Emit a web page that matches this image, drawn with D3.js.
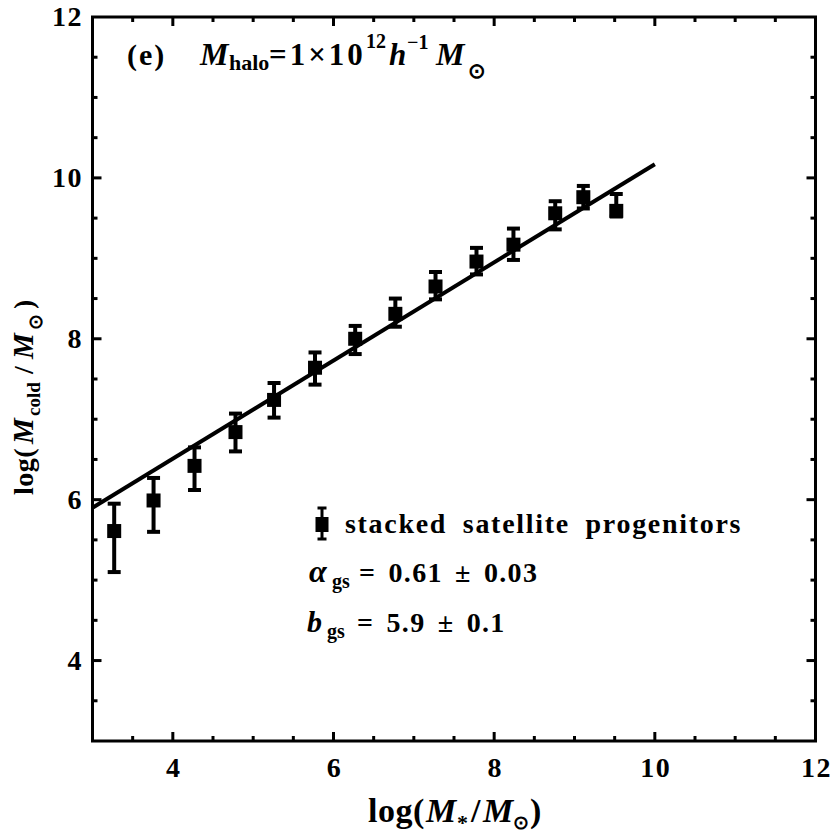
<!DOCTYPE html>
<html><head><meta charset="utf-8">
<script src="https://cdn.jsdelivr.net/npm/d3@7"></script>
<style>body{margin:0;background:#fff}svg{display:block}text{font-family:"Liberation Serif","Times New Roman",serif;font-weight:bold;fill:#000}</style>
</head><body><svg id="c" width="834" height="834"></svg>
<script>
const xs   = [3.27, 3.76, 4.27, 4.78, 5.26, 5.77, 6.27, 6.77, 7.27, 7.78, 8.24, 8.76, 9.11, 9.52];
const ys   = [5.61, 5.99, 6.42, 6.84, 7.24, 7.64, 8.00, 8.31, 8.65, 8.96, 9.17, 9.56, 9.76, 9.59];
const yHi  = [5.95, 6.27, 6.65, 7.07, 7.45, 7.83, 8.16, 8.50, 8.83, 9.13, 9.37, 9.71, 9.90, 9.80];
const yLo  = [5.10, 5.60, 6.12, 6.60, 7.02, 7.43, 7.81, 8.15, 8.49, 8.80, 8.98, 9.36, 9.62, 9.52];
const fitX = [3, 10];
const alpha = 0.61, bgs = 5.9;
const majorTicks = [4, 6, 8, 10, 12];
const xMajorLabels = [4, 6, 8, 10, 12];
const yMajorLabels = [4, 6, 8, 10, 12];

const svg = d3.select("#c");
const L = 92.5, R = 815.5, T = 17, B = 741;
const x = d3.scaleLinear().domain([3, 12]).range([L, R]);
const y = d3.scaleLinear().domain([3, 12]).range([B, T]);
const minor = d3.range(3.5, 12, 0.5).filter(v => v % 2 !== 0);

// ticks (inward, all four sides)
const tk = svg.append("g").attr("stroke", "#000").attr("stroke-width", 3);
[...majorTicks.map(v => [v, 9]), ...minor.map(v => [v, 5])].forEach(([v, len]) => {
  if (v < 12) {
    tk.append("line").attr("x1", x(v)).attr("x2", x(v)).attr("y1", B).attr("y2", B - len);
    tk.append("line").attr("x1", x(v)).attr("x2", x(v)).attr("y1", T).attr("y2", T + len);
    tk.append("line").attr("y1", y(v)).attr("y2", y(v)).attr("x1", L).attr("x2", L + len);
    tk.append("line").attr("y1", y(v)).attr("y2", y(v)).attr("x1", R).attr("x2", R - len);
  }
});
svg.append("rect").attr("x", L).attr("y", T).attr("width", R - L).attr("height", B - T)
  .attr("fill", "none").attr("stroke", "#000").attr("stroke-width", 3);

// tick labels
svg.selectAll(".xl").data(xMajorLabels).enter().append("text")
  .attr("x", d => x(d) + 1).attr("y", 777).attr("text-anchor", "middle").attr("font-size", 28)
  .attr("letter-spacing", 1.5).text(d => d);
svg.selectAll(".yl").data(yMajorLabels).enter().append("text")
  .attr("x", 83).attr("y", d => y(d) + 9).attr("text-anchor", "end").attr("font-size", 28)
  .attr("letter-spacing", 1.5).text(d => d);

// fit line
svg.append("line").attr("x1", x(fitX[0])).attr("y1", y(bgs + alpha * (fitX[0] - 3)))
  .attr("x2", x(fitX[1])).attr("y2", y(bgs + alpha * (fitX[1] - 3)))
  .attr("stroke", "#000").attr("stroke-width", 4);

// error bars + squares
const g = svg.append("g");
xs.forEach((xv, i) => {
  const cx = x(xv);
  g.append("line").attr("x1", cx).attr("x2", cx).attr("y1", y(yHi[i])).attr("y2", y(yLo[i])).attr("stroke", "#000").attr("stroke-width", 4);
  [yHi[i], yLo[i]].forEach(v => g.append("line").attr("x1", cx - 6.5).attr("x2", cx + 6.5).attr("y1", y(v)).attr("y2", y(v)).attr("stroke", "#000").attr("stroke-width", 4));
  g.append("rect").attr("x", cx - 7).attr("y", y(ys[i]) - 7).attr("width", 14).attr("height", 14).attr("fill", "#000");
});

// helper for positioned text pieces
function piece(parent, px, py, txt, size, italic) {
  return parent.append("text").attr("x", px).attr("y", py).attr("font-size", size)
    .attr("font-style", italic ? "italic" : "normal").text(txt);
}

// legend
const lx = 322, ly = 524;
g.append("line").attr("x1", lx).attr("x2", lx).attr("y1", ly - 16).attr("y2", ly + 15).attr("stroke", "#000").attr("stroke-width", 3);
[ly - 16, ly + 15].forEach(v => g.append("line").attr("x1", lx - 4.5).attr("x2", lx + 4.5).attr("y1", v).attr("y2", v).attr("stroke", "#000").attr("stroke-width", 3));
g.append("rect").attr("x", lx - 6.5).attr("y", ly - 7).attr("width", 13).attr("height", 15).attr("fill", "#000");
svg.append("text").attr("x", 345).attr("y", 533).attr("font-size", 28).attr("letter-spacing", 1.7).attr("word-spacing", 7)
  .text("stacked satellite progenitors");

// fit parameters
piece(svg, 309, 582, "α", 32, true);
piece(svg, 332, 588, "gs", 20, false);
piece(svg, 359, 582, "= 0.61 ± 0.03", 28, false).attr("letter-spacing", 1.3).attr("word-spacing", 4);
piece(svg, 307, 632, "b", 30, true);
piece(svg, 327, 638, "gs", 20, false);
piece(svg, 357, 632, "= 5.9 ± 0.1", 28, false).attr("letter-spacing", 1.3).attr("word-spacing", 4);

// title
piece(svg, 127, 65, "(e)", 30, false).attr("letter-spacing", 2);
piece(svg, 200, 65, "M", 32, true);
piece(svg, 229, 70, "halo", 22, false);
piece(svg, 269, 65, "=1×10", 31, false).attr("letter-spacing", 3);
piece(svg, 366, 48, "12", 20, false);
piece(svg, 389, 65, "h", 31, true);
piece(svg, 407, 49, "−1", 20, false);
piece(svg, 436, 65, "M", 32, true);
piece(svg, 468, 78, "⊙", 21, false);

// x axis label
piece(svg, 368, 822, "log(", 34, false).attr("letter-spacing", 0.5);
piece(svg, 426, 822, "M", 34, true);
piece(svg, 457, 830, "*", 22, false);
piece(svg, 471, 822, "/", 34, false);
piece(svg, 483, 822, "M", 34, true);
piece(svg, 513, 829, "⊙", 19, false);
piece(svg, 530, 822, ")", 34, false);

// y axis label (rotated)
const yg = svg.append("g").attr("transform", "translate(33,0) rotate(-90)");
piece(yg, -495, 0, "log(", 28, false).attr("letter-spacing", 0.5);
piece(yg, -444, 0, "M", 29, true);
piece(yg, -416, 7, "cold", 19, false);
piece(yg, -374, 0, "/", 28, false);
piece(yg, -359, 0, "M", 29, true);
piece(yg, -330, 9, "⊙", 19, false);
piece(yg, -309, 0, ")", 28, false);
</script></body></html>
